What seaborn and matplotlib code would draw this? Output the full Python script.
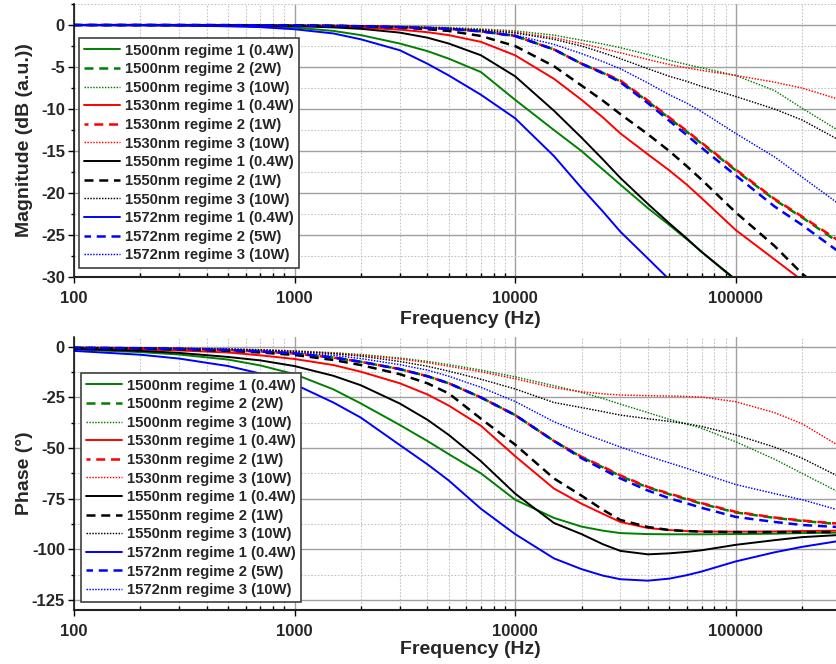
import numpy as np
import pandas as pd
import matplotlib
matplotlib.use("Agg")
import matplotlib.pyplot as plt
import matplotlib.ticker as mticker
import seaborn as sns

# ---------------- data ----------------
freq_hz = [100, 200, 300, 500, 700, 1000, 1500, 2000, 3000, 4000, 5000, 7000, 10000,
           15000, 20000, 25000, 30000, 40000, 50000, 60000, 70000, 100000, 150000, 200000, 290000]

# magnitude (dB)
mag_1500_r1 = [0, -0.01, -0.03, -0.08, -0.15, -0.3, -0.7, -1.2, -2.2, -3.1, -4.0, -5.6, -8.9,
               -12.5, -15.0, -17.2, -19.0, -21.8, -23.8, -25.5, -27.0, -30.4, -34.3, -37.0, -40.5]
mag_1500_r2 = [0, 0, -0.01, -0.02, -0.03, -0.06, -0.1, -0.15, -0.25, -0.35, -0.45, -0.75, -1.3,
               -2.9, -4.6, -5.7, -6.7, -9.1, -11.1, -12.7, -14.1, -17.3, -20.8, -22.9, -25.8]
mag_1500_r3 = [0, 0, 0, 0, -0.01, -0.02, -0.05, -0.08, -0.15, -0.22, -0.3, -0.45, -0.7,
               -1.2, -1.8, -2.25, -2.7, -3.5, -4.2, -4.7, -5.1, -6.0, -7.8, -9.9, -12.5]
mag_1530_r1 = [0, 0, -0.01, -0.03, -0.05, -0.1, -0.2, -0.3, -0.55, -0.85, -1.2, -2.0, -3.6,
               -6.4, -8.9, -11.0, -12.9, -15.4, -17.3, -19.0, -20.6, -24.4, -27.9, -30.4, -33.5]
mag_1530_r2 = [0, 0, -0.01, -0.02, -0.03, -0.06, -0.1, -0.15, -0.25, -0.35, -0.45, -0.75, -1.3,
               -2.9, -4.6, -5.65, -6.6, -9.0, -11.0, -12.6, -14.0, -17.2, -20.7, -22.8, -25.6]
mag_1530_r3 = [0, 0, 0, 0, -0.02, -0.03, -0.06, -0.1, -0.2, -0.3, -0.4, -0.55, -0.85,
               -1.5, -2.2, -2.8, -3.3, -4.1, -4.7, -5.1, -5.4, -6.0, -6.8, -7.5, -8.8]
mag_1550_r1 = [0, 0, -0.01, -0.03, -0.06, -0.12, -0.28, -0.45, -0.9, -1.5, -2.2, -3.6, -6.1,
               -10.2, -13.4, -16.0, -18.2, -21.3, -23.6, -25.4, -27.0, -30.3, -34.0, -36.7, -40.0]
mag_1550_r2 = [0, 0, 0, -0.01, -0.03, -0.05, -0.1, -0.15, -0.3, -0.5, -0.7, -1.3, -2.5,
               -4.9, -7.2, -9.0, -10.6, -13.0, -15.0, -16.8, -18.4, -22.3, -26.3, -29.6, -33.0]
mag_1550_r3 = [0, 0, 0, 0, -0.02, -0.03, -0.06, -0.1, -0.2, -0.3, -0.4, -0.6, -0.95,
               -1.7, -2.5, -3.3, -4.0, -5.2, -6.1, -6.7, -7.3, -8.5, -10.0, -11.3, -13.6]
mag_1572_r1 = [0, -0.02, -0.05, -0.15, -0.25, -0.5, -1.0, -1.7, -3.0, -4.6, -6.0, -8.3, -11.1,
               -15.6, -19.4, -22.2, -24.6, -27.8, -30.3, -32.2, -34.0, -38.0, -42.0, -45.0, -49.0]
mag_1572_r2 = [0, 0, -0.01, -0.02, -0.03, -0.06, -0.1, -0.15, -0.25, -0.35, -0.45, -0.75, -1.3,
               -2.9, -4.6, -5.75, -6.8, -9.3, -11.4, -13.1, -14.6, -17.9, -21.6, -23.8, -26.9]
mag_1572_r3 = [0, 0, 0, -0.01, -0.02, -0.04, -0.08, -0.12, -0.25, -0.37, -0.5, -0.75, -1.2,
               -2.3, -3.4, -4.35, -5.2, -6.9, -8.3, -9.3, -10.3, -12.9, -15.7, -18.1, -21.2]

# phase (degrees)
ph_1500_r1 = [-1.3, -2.6, -3.8, -6.3, -9.2, -13.5, -21.0, -28.0, -38.6, -46.5, -53.0, -62.5, -75.5,
              -84.5, -88.8, -90.8, -92.0, -92.5, -92.6, -92.6, -92.6, -92.5, -92.3, -92.0, -91.8]
ph_1500_r2 = [-0.5, -0.7, -1.0, -1.6, -2.3, -3.3, -5.3, -7.4, -11.0, -14.5, -18.0, -25.0, -33.7,
              -46.5, -54.5, -59.5, -63.8, -69.5, -72.8, -75.3, -77.5, -81.8, -84.5, -86.0, -87.5]
ph_1500_r3 = [-0.2, -0.4, -0.6, -1.0, -1.4, -2.0, -2.9, -3.8, -5.5, -7.2, -8.8, -11.5, -14.8,
              -19.2, -22.5, -25.5, -28.3, -32.5, -35.8, -38.1, -40.2, -46.9, -55.5, -62.5, -71.5]
ph_1530_r1 = [-0.8, -1.3, -1.8, -2.8, -4.2, -6.0, -9.0, -12.3, -18.0, -23.5, -29.0, -39.0, -54.0,
              -70.0, -77.5, -82.5, -86.5, -89.5, -90.5, -91.0, -91.2, -91.3, -91.2, -91.0, -90.8]
ph_1530_r2 = [-0.5, -0.7, -1.0, -1.6, -2.3, -3.3, -5.3, -7.4, -11.0, -14.5, -18.0, -25.0, -33.7,
              -46.5, -54.3, -59.2, -63.5, -69.2, -72.5, -75.0, -77.2, -81.5, -84.3, -85.8, -87.3]
ph_1530_r3 = [-0.3, -0.5, -0.7, -1.1, -1.5, -2.1, -3.1, -4.1, -6.0, -7.8, -9.6, -12.3, -15.8,
              -20.2, -22.2, -23.2, -23.8, -24.1, -24.3, -24.5, -24.8, -27.1, -32.5, -38.0, -48.5]
ph_1550_r1 = [-1.0, -2.0, -3.0, -5.0, -6.7, -9.5, -14.3, -19.0, -28.0, -36.0, -43.5, -56.5, -72.5,
              -87.0, -92.5, -97.5, -100.8, -102.5, -102.0, -101.3, -100.5, -97.8, -95.5, -94.0, -93.0]
ph_1550_r2 = [-0.6, -0.9, -1.3, -2.0, -2.8, -4.0, -6.5, -9.0, -13.5, -18.0, -23.0, -35.5, -48.3,
              -65.0, -73.5, -80.5, -85.5, -89.0, -90.5, -91.0, -91.3, -91.5, -91.5, -91.5, -91.5]
ph_1550_r3 = [-0.3, -0.5, -0.8, -1.2, -1.6, -2.3, -3.4, -4.6, -7.2, -9.6, -12.0, -16.0, -20.8,
              -27.5, -30.0, -32.0, -33.7, -35.5, -36.8, -38.0, -39.3, -43.5, -49.5, -55.0, -63.8]
ph_1572_r1 = [-2.0, -3.9, -5.8, -9.5, -13.2, -18.5, -27.5, -35.0, -48.5, -58.0, -66.0, -80.0, -92.5,
              -104.5, -109.8, -113.0, -114.8, -115.5, -114.5, -112.8, -111.0, -106.0, -101.5, -98.8, -96.0]
ph_1572_r2 = [-0.5, -0.7, -1.0, -1.6, -2.3, -3.3, -5.3, -7.4, -11.0, -14.5, -18.0, -25.0, -33.7,
              -46.5, -55.0, -60.5, -65.0, -71.0, -74.8, -77.3, -79.5, -84.0, -86.5, -88.0, -89.0]
ph_1572_r3 = [-0.4, -0.6, -0.9, -1.3, -1.9, -2.8, -4.2, -5.8, -8.8, -11.5, -14.5, -20.0, -27.0,
              -37.0, -42.5, -46.3, -49.5, -54.0, -57.3, -60.0, -62.5, -68.0, -72.5, -75.5, -80.5]

labels = ["1500nm regime 1 (0.4W)", "1500nm regime 2 (2W)", "1500nm regime 3 (10W)",
          "1530nm regime 1 (0.4W)", "1530nm regime 2 (1W)", "1530nm regime 3 (10W)",
          "1550nm regime 1 (0.4W)", "1550nm regime 2 (1W)", "1550nm regime 3 (10W)",
          "1572nm regime 1 (0.4W)", "1572nm regime 2 (5W)", "1572nm regime 3 (10W)"]
mag_series = [mag_1500_r1, mag_1500_r2, mag_1500_r3, mag_1530_r1, mag_1530_r2, mag_1530_r3,
              mag_1550_r1, mag_1550_r2, mag_1550_r3, mag_1572_r1, mag_1572_r2, mag_1572_r3]
ph_series = [ph_1500_r1, ph_1500_r2, ph_1500_r3, ph_1530_r1, ph_1530_r2, ph_1530_r3,
             ph_1550_r1, ph_1550_r2, ph_1550_r3, ph_1572_r1, ph_1572_r2, ph_1572_r3]

x_ticks = [100, 1000, 10000, 100000]
mag_ticks = [0, -5, -10, -15, -20, -25, -30]
ph_ticks = [0, -25, -50, -75, -100, -125]

# ---------------- styles ----------------
wl_colors = {"1500": "#008000", "1530": "#ff0000", "1550": "#000000", "1572": "#0000ff"}
styles = {
    "1": dict(linestyle="-", lw=1.4),
    "2": dict(linestyle=(0, (3.6, 2.3)), lw=1.8),
    "3": dict(linestyle=(0, (1, 1)), lw=1.05),
}
dash_offsets = {"1500": 0, "1530": 2.0, "1550": 0, "1572": 1.0}

sns.set_theme(style="white")
plt.rcParams["font.family"] = ["Liberation Sans", "DejaVu Sans"]
plt.rcParams["font.weight"] = "bold"
plt.rcParams["axes.unicode_minus"] = False

fig = plt.figure(figsize=(8.37, 6.64), dpi=100)
ax_mag = fig.add_axes([0.0884, 0.5828, 0.9116, 0.4111])
ax_ph = fig.add_axes([0.0884, 0.0813, 0.9116, 0.4116])

def draw(ax, series, ylabel, ylim, yticks, yminor, leg_anchor):
    ax.set_xscale("log")
    for lab, vals in zip(labels, series):
        wl = lab[:4]
        reg = lab.split("regime ")[1][0]
        st = dict(styles[reg])
        if reg == "2":
            st["linestyle"] = (dash_offsets[wl], (3.6, 2.3))
        df = pd.DataFrame({"freq": freq_hz, "val": vals})
        sns.lineplot(data=df, x="freq", y="val", ax=ax, color=wl_colors[wl],
                     label=lab, errorbar=None, legend=False, **st)
    ax.set_xlim(100, 2.88e5)
    ax.set_ylim(*ylim)
    ax.set_xticks(x_ticks)
    ax.xaxis.set_major_formatter(mticker.FuncFormatter(lambda v, p: f"{int(round(v))}"))
    ax.xaxis.set_minor_locator(mticker.LogLocator(base=10, subs=np.arange(2, 10), numticks=20))
    ax.xaxis.set_minor_formatter(mticker.NullFormatter())
    ax.set_yticks(yticks)
    ax.yaxis.set_major_formatter(mticker.FuncFormatter(lambda v, p: f"{int(round(v))}"))
    ax.yaxis.set_minor_locator(mticker.MultipleLocator(yminor))

    ax.grid(which="major", color="#a0a0a0", lw=1.0, ls="-")
    ax.grid(which="minor", color="#c4c4c4", lw=0.8, ls=(0, (1.5, 1.5)))
    ax.set_axisbelow(True)

    for s in ["top", "right"]:
        ax.spines[s].set_visible(False)
    ax.spines["left"].set_color("black")
    ax.spines["left"].set_linewidth(1.1)
    ax.spines["bottom"].set_color("#222222")
    ax.spines["bottom"].set_linewidth(1.5)

    ax.tick_params(axis="y", which="major", direction="out", length=4.5, width=1.0,
                   color="black", labelsize=12, pad=2, left=True)
    ax.tick_params(axis="y", which="minor", direction="out", length=2.5, width=1.0,
                   color="black", left=True)
    ax.tick_params(axis="x", which="major", direction="out", length=4, width=1.0,
                   color="black", labelsize=12, pad=6, bottom=True)
    ax.tick_params(axis="x", which="minor", direction="in", length=3, width=1.0,
                   color="black", bottom=True)
    for t in ax.get_xticklabels() + ax.get_yticklabels():
        t.set_fontweight("bold")

    ax.set_xlabel("Frequency (Hz)", fontsize=14, fontweight="bold")
    ax.set_ylabel(ylabel, fontsize=14, fontweight="bold")
    ax.yaxis.set_label_coords(-0.054, 0.5)

    handles, labs = ax.get_legend_handles_labels()
    leg = ax.legend(handles, labs, loc="upper left", bbox_to_anchor=leg_anchor,
                    borderaxespad=0, frameon=True, fancybox=False, framealpha=1,
                    edgecolor="#404040", handlelength=2.4,
                    handletextpad=0.35, labelspacing=0.31, borderpad=0.35,
                    prop={"weight": "bold", "size": 10.7})
    leg.get_frame().set_linewidth(1.2)
    return ax

draw(ax_mag, mag_series, "Magnitude (dB (a.u.))", (-30, 2.5), mag_ticks, 2.5, (0.0066, 0.874))
ax_mag.xaxis.set_label_coords(0.52, -0.124)
draw(ax_ph, ph_series, "Phase (\u00b0)", (-130, 5), ph_ticks, 12.5, (0.0088, 0.866))
ax_ph.xaxis.set_label_coords(0.52, -0.113)

fig.savefig("out.png", dpi=100)
